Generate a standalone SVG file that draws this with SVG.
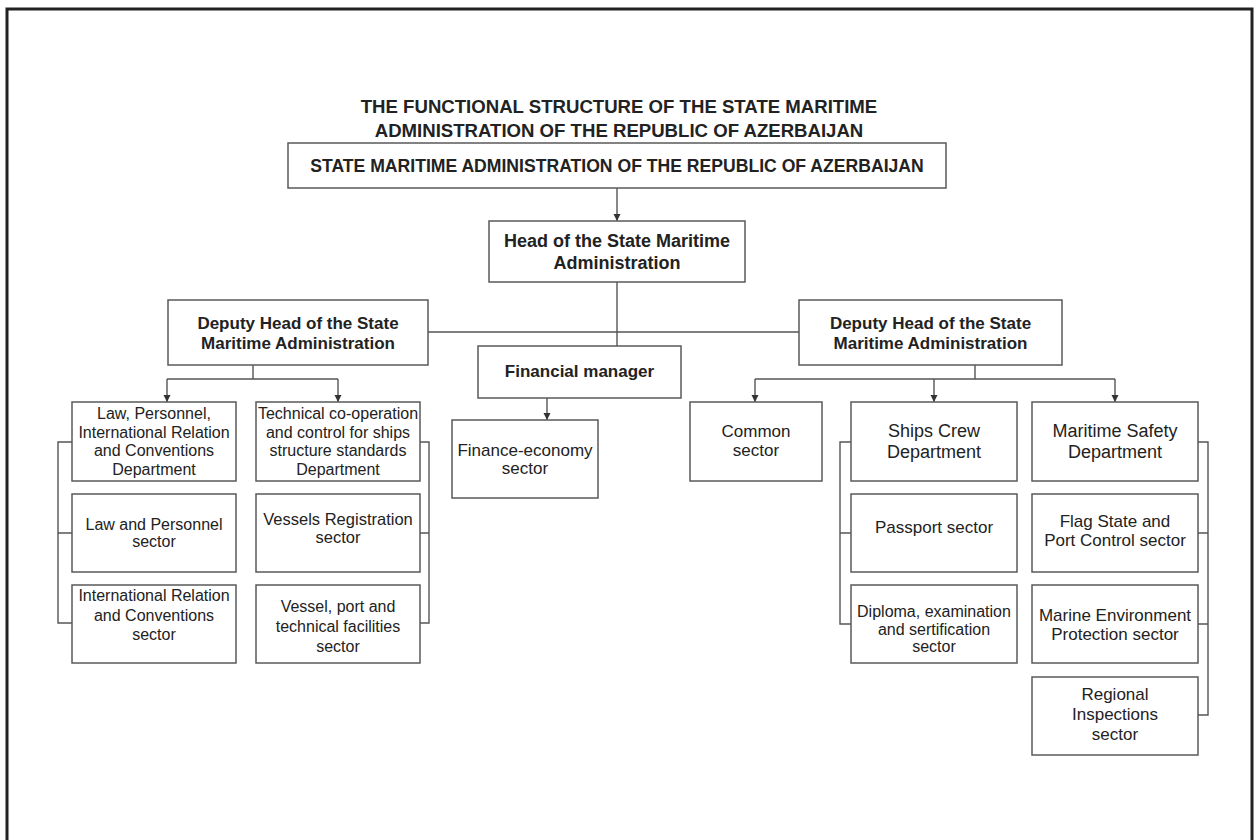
<svg xmlns="http://www.w3.org/2000/svg" width="1258" height="840" viewBox="0 0 1258 840">
<defs>
<style>
.bx{fill:#fff;stroke:#5a5a5a;stroke-width:1.5}
.ln{fill:none;stroke:#555;stroke-width:1.4}
.t{font-family:"Liberation Sans",Arial,sans-serif;fill:#222;text-anchor:middle}
.b{font-weight:bold}
.s16{font-size:16px}
.s17{font-size:17px}
.s18{font-size:18px}
</style>
<marker id="ah" viewBox="0 0 10 10" refX="10" refY="5" markerWidth="7" markerHeight="8" markerUnits="userSpaceOnUse" orient="auto">
<path d="M0,0 L10,5 L0,10 z" fill="#333"/>
</marker>
</defs>
<rect x="0" y="0" width="1258" height="840" fill="#fff"/>
<path d="M7,840 L7,9 L1252,9 L1252,840" fill="none" stroke="#222" stroke-width="3"/>

<g id="title">
<text class="t b" style="font-size:18.6px" x="619" y="113">THE FUNCTIONAL STRUCTURE OF THE STATE MARITIME</text>
<text class="t b" style="font-size:18.6px" x="619" y="137">ADMINISTRATION OF THE REPUBLIC OF AZERBAIJAN</text>
</g>

<g id="connectors">
<line class="ln" x1="617" y1="188" x2="617" y2="221" marker-end="url(#ah)"/>
<line class="ln" x1="617" y1="282" x2="617" y2="346"/>
<line class="ln" x1="428" y1="332" x2="799" y2="332"/>
<line class="ln" x1="253" y1="365" x2="253" y2="379"/>
<line class="ln" x1="167" y1="379" x2="338" y2="379"/>
<line class="ln" x1="167" y1="379" x2="167" y2="402" marker-end="url(#ah)"/>
<line class="ln" x1="338" y1="379" x2="338" y2="402" marker-end="url(#ah)"/>
<line class="ln" x1="547" y1="398" x2="547" y2="420" marker-end="url(#ah)"/>
<line class="ln" x1="975" y1="365" x2="975" y2="379"/>
<line class="ln" x1="755" y1="379" x2="1115" y2="379"/>
<line class="ln" x1="755" y1="379" x2="755" y2="402" marker-end="url(#ah)"/>
<line class="ln" x1="934" y1="379" x2="934" y2="402" marker-end="url(#ah)"/>
<line class="ln" x1="1115" y1="379" x2="1115" y2="402" marker-end="url(#ah)"/>
<path class="ln" d="M72,442 H58 V623 H72 M58,533 H72"/>
<path class="ln" d="M420,442 H429 V623 H420 M429,533 H420"/>
<path class="ln" d="M851,442 H840 V624 H851 M840,533 H851"/>
<path class="ln" d="M1198,442 H1208 V715 H1198 M1208,533 H1198 M1208,624 H1198"/>
</g>

<g id="n-sma">
<rect class="bx" x="288" y="143" width="658" height="45"/>
<text class="t b" style="font-size:17.6px" x="617" y="172">STATE MARITIME ADMINISTRATION OF THE REPUBLIC OF AZERBAIJAN</text>
</g>
<g id="n-head">
<rect class="bx" x="489" y="221" width="256" height="61"/>
<text class="t b s18" x="617" y="247">Head of the State Maritime</text>
<text class="t b s18" x="617" y="269">Administration</text>
</g>
<g id="n-deputy-left">
<rect class="bx" x="168" y="300" width="260" height="65"/>
<text class="t b s17" x="298" y="329">Deputy Head of the State</text>
<text class="t b s17" x="298" y="349">Maritime Administration</text>
</g>
<g id="n-deputy-right">
<rect class="bx" x="799" y="300" width="263" height="65"/>
<text class="t b s17" x="930.5" y="329">Deputy Head of the State</text>
<text class="t b s17" x="930.5" y="349">Maritime Administration</text>
</g>
<g id="n-financial-manager">
<rect class="bx" x="478" y="346" width="203" height="52"/>
<text class="t b s17" x="579.5" y="377">Financial manager</text>
</g>
<g id="n-finance-economy">
<rect class="bx" x="452" y="420" width="146" height="78"/>
<text class="t s17" x="525" y="456">Finance-economy</text>
<text class="t s17" x="525" y="474">sector</text>
</g>

<g id="n-law-dept">
<rect class="bx" x="72" y="402" width="164" height="79"/>
<text class="t s16" x="154" y="419">Law, Personnel,</text>
<text class="t s16" x="154" y="438">International Relation</text>
<text class="t s16" x="154" y="456">and Conventions</text>
<text class="t s16" x="154" y="475">Department</text>
</g>
<g id="n-law-personnel">
<rect class="bx" x="72" y="494" width="164" height="78"/>
<text class="t s16" x="154" y="530">Law and Personnel</text>
<text class="t s16" x="154" y="547">sector</text>
</g>
<g id="n-intl-relation">
<rect class="bx" x="72" y="585" width="164" height="78"/>
<text class="t s16" x="154" y="601">International Relation</text>
<text class="t s16" x="154" y="621">and Conventions</text>
<text class="t s16" x="154" y="640">sector</text>
</g>
<g id="n-tech-dept">
<rect class="bx" x="256" y="402" width="164" height="79"/>
<text class="t s16" x="338" y="419">Technical co-operation</text>
<text class="t s16" x="338" y="438">and control for ships</text>
<text class="t s16" x="338" y="456">structure standards</text>
<text class="t s16" x="338" y="475">Department</text>
</g>
<g id="n-vessels-registration">
<rect class="bx" x="256" y="494" width="164" height="78"/>
<text class="t" style="font-size:16.5px" x="338" y="525">Vessels Registration</text>
<text class="t" style="font-size:16.5px" x="338" y="543">sector</text>
</g>
<g id="n-vessel-port">
<rect class="bx" x="256" y="585" width="164" height="78"/>
<text class="t s16" x="338" y="612">Vessel, port and</text>
<text class="t s16" x="338" y="632">technical  facilities</text>
<text class="t s16" x="338" y="652">sector</text>
</g>

<g id="n-common">
<rect class="bx" x="690" y="402" width="132" height="79"/>
<text class="t s17" x="756" y="437">Common</text>
<text class="t s17" x="756" y="456">sector</text>
</g>
<g id="n-ships-crew">
<rect class="bx" x="851" y="402" width="166" height="79"/>
<text class="t s18" x="934" y="437">Ships Crew</text>
<text class="t s18" x="934" y="458">Department</text>
</g>
<g id="n-passport">
<rect class="bx" x="851" y="494" width="166" height="78"/>
<text class="t s17" x="934" y="533">Passport sector</text>
</g>
<g id="n-diploma">
<rect class="bx" x="851" y="585" width="166" height="78"/>
<text class="t s16" x="934" y="617">Diploma, examination</text>
<text class="t s16" x="934" y="635">and sertification</text>
<text class="t s16" x="934" y="652">sector</text>
</g>
<g id="n-maritime-safety">
<rect class="bx" x="1032" y="402" width="166" height="79"/>
<text class="t s18" x="1115" y="437">Maritime Safety</text>
<text class="t s18" x="1115" y="458">Department</text>
</g>
<g id="n-flag-state">
<rect class="bx" x="1032" y="494" width="166" height="78"/>
<text class="t s17" x="1115" y="527">Flag State and</text>
<text class="t s17" x="1115" y="546">Port Control sector</text>
</g>
<g id="n-marine-env">
<rect class="bx" x="1032" y="585" width="166" height="78"/>
<text class="t s17" x="1115" y="621">Marine Environment</text>
<text class="t s17" x="1115" y="640">Protection sector</text>
</g>
<g id="n-regional">
<rect class="bx" x="1032" y="677" width="166" height="78"/>
<text class="t s17" x="1115" y="700">Regional</text>
<text class="t s17" x="1115" y="720">Inspections</text>
<text class="t s17" x="1115" y="740">sector</text>
</g>
</svg>
